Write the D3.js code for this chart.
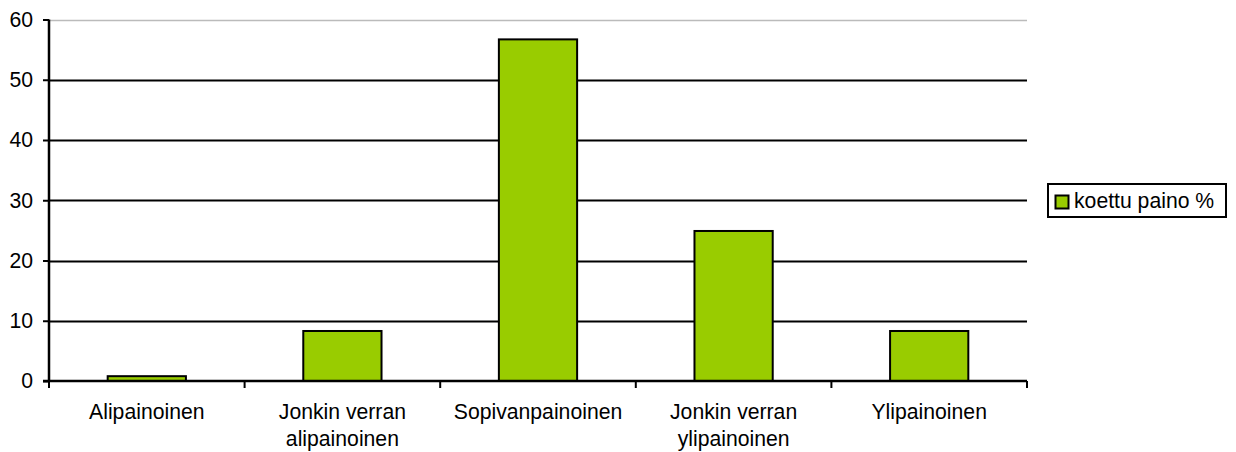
<!DOCTYPE html>
<html>
<head>
<meta charset="utf-8">
<script src="https://cdn.jsdelivr.net/npm/d3@7"></script>
<style>
  body { margin: 0; background: #fff; }
  svg text { font-family: "Liberation Sans", Arial, sans-serif; fill: #000; }
</style>
</head>
<body>
<svg id="chart" width="1236" height="452"></svg>
<script>
// Koettu paino (%)
const categories = [
  ["Alipainoinen"],
  ["Jonkin verran", "alipainoinen"],
  ["Sopivanpainoinen"],
  ["Jonkin verran", "ylipainoinen"],
  ["Ylipainoinen"]
];
const values = [0.8, 8.3, 56.7, 24.9, 8.3];
const yTicks = [0, 10, 20, 30, 40, 50, 60];
const seriesName = "koettu paino %";

const svg = d3.select("#chart");
const plot = { left: 49, right: 1027, top: 19.5, bottom: 381 };
const fontSize = 21.2;

const x = d3.scaleBand()
  .domain(d3.range(categories.length))
  .range([plot.left, plot.right])
  .paddingInner(0.6)
  .paddingOuter(0.3);
const bandStep = (plot.right - plot.left) / categories.length;

const y = d3.scaleLinear().domain([0, 60]).range([plot.bottom, plot.top]);

// horizontal gridlines
svg.append("g").selectAll("line")
  .data(yTicks.filter(d => d > 0))
  .join("line")
  .attr("x1", plot.left).attr("x2", plot.right)
  .attr("y1", d => Math.round(y(d)) + 0.5).attr("y2", d => Math.round(y(d)) + 0.5)
  .attr("stroke", d => d === 60 ? "#bbb" : "#000")
  .attr("stroke-width", d => d === 60 ? 1.5 : 2);

// bars
svg.append("g").selectAll("rect")
  .data(values)
  .join("rect")
  .attr("x", (d, i) => x(i))
  .attr("width", x.bandwidth())
  .attr("y", d => y(d))
  .attr("height", d => y(0) - y(d))
  .attr("fill", "#99cc00")
  .attr("stroke", "#000")
  .attr("stroke-width", 2);

// y axis
const yAxis = d3.axisLeft(y).tickValues(yTicks).tickSize(6).tickPadding(10);
const gy = svg.append("g").attr("transform", `translate(${plot.left},0)`).call(yAxis);
gy.select(".domain").attr("stroke", "#000").attr("stroke-width", 2.5).attr("d", `M0,${plot.top}V${plot.bottom}`);
gy.selectAll(".tick line").attr("stroke", "#000").attr("stroke-width", 2);
gy.selectAll(".tick text").attr("font-size", fontSize).attr("font-family", "Liberation Sans, Arial, sans-serif").attr("fill", "#000");

// x axis line and category boundary ticks
svg.append("line")
  .attr("x1", plot.left - 6).attr("x2", plot.right)
  .attr("y1", plot.bottom).attr("y2", plot.bottom)
  .attr("stroke", "#000").attr("stroke-width", 2.5);
svg.append("g").selectAll("line")
  .data(d3.range(categories.length + 1))
  .join("line")
  .attr("x1", i => plot.left + i * bandStep).attr("x2", i => plot.left + i * bandStep)
  .attr("y1", plot.bottom).attr("y2", plot.bottom + 7)
  .attr("stroke", "#000").attr("stroke-width", 2);

// category labels
const labels = svg.append("g").selectAll("text")
  .data(categories)
  .join("text")
  .attr("text-anchor", "middle")
  .attr("font-size", fontSize)
  .attr("x", (d, i) => x(i) + x.bandwidth() / 2)
  .attr("y", 419);
labels.selectAll("tspan")
  .data(d => d)
  .join("tspan")
  .attr("x", function () { return d3.select(this.parentNode).attr("x"); })
  .attr("dy", (d, i) => i === 0 ? 0 : 27)
  .text(d => d);

// legend
const lg = svg.append("g");
lg.append("rect")
  .attr("x", 1048).attr("y", 184).attr("width", 178).attr("height", 33)
  .attr("fill", "#fff").attr("stroke", "#000").attr("stroke-width", 2);
lg.append("rect")
  .attr("x", 1055.5).attr("y", 195.5).attr("width", 13).attr("height", 13)
  .attr("fill", "#99cc00").attr("stroke", "#000").attr("stroke-width", 2);
lg.append("text")
  .attr("x", 1074).attr("y", 208)
  .attr("font-size", fontSize)
  .text(seriesName);
</script>
</body>
</html>
